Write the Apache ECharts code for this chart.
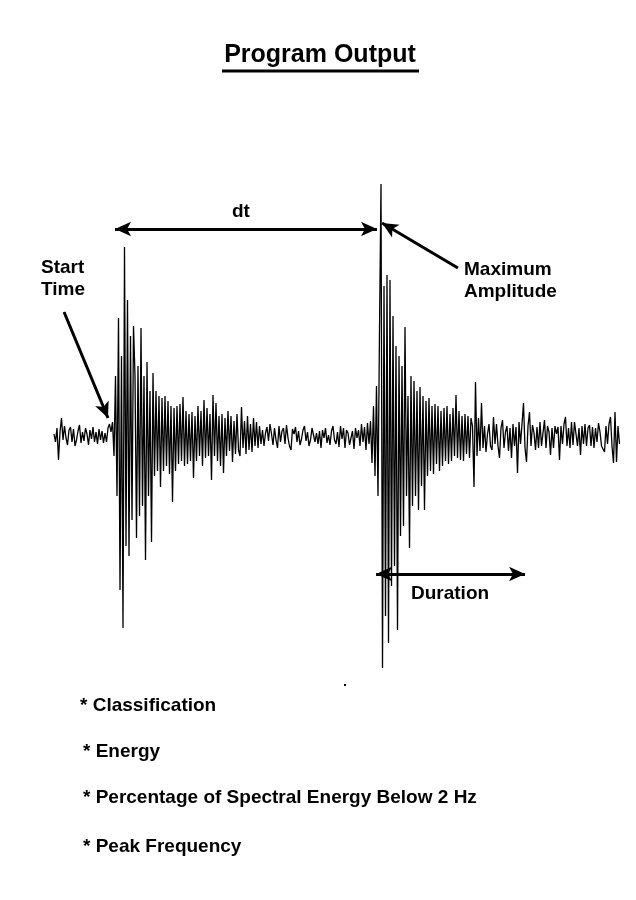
<!DOCTYPE html>
<html>
<head>
<meta charset="utf-8">
<script src="https://cdn.jsdelivr.net/npm/echarts@6/dist/echarts.min.js"></script>
<style>html,body{margin:0;padding:0;background:#fff;}#c{width:636px;height:900px;}</style>
</head>
<body>
<div id="c"></div>
<script>
// Seismogram amplitude samples (positive = up), evenly spaced in time
const preEvent = [2, -6, 8, -24, 4, 18, -4, 10, -2, -9,
  6, 9, -6, 7, -10, -4, 5, 11, -7, 4,
  -5, 8, 2, -9, 6, -3, 9, -6, 4, -8,
  7, -4, 5, -7, 3, -6, 8, 12, 4, 14];
const firstEvent = [-20, 60, -60, 118, -154, 80, -192, 189, -110, 136,
  -120, 100, -84, 110, 60, -102, 70, -80, 108, -70,
  60, -124, 74, -60, 45, -106, 63, -40, 45, -35,
  40, -51, 38, -35, 40, -30, 35, -38, 30, -66,
  28, -35, 30, -28, 32, -25, 39, -30, 25, -28,
  22, -25, 24, -42, 20, -25, 30, -20, 25, -30,
  36, -22, 28, -20, 22, -44, 41, -20, 33, -25,
  20, -30, 22, -37, 18, -20, 25, -15, 20, -26,
  15, -18, 22, -14, -20, 29, -12, 15, -18, 20,
  -14, 12, -16, 18, -10, 14, -12, 10];
const quietCoda = [-8, 6, -10, 3, 9, -5, 12, 2, -9, 8,
  -4, -12, 10, -6, 5, 8, -8, 11, -2, -10,
  -14, 7, 2, 9, -6, 5, -9, -3, 6, 10,
  -5, 4, -10, -4, 8, 9, -6, 3, -8, 5,
  -12, 6, -2, 8, -7, 1, -9, 5, 10, -4,
  -8, 4, -11, 10, -3, 8, -12, 6, 3, -9,
  -7, 5, -13, 8, -2, 6, -10, 12, -6, 9,
  -14, 13, -8, 15];
const secondEvent = [-27, 30, -40, 50, -60, 106, 252, -232, 150, -180,
  161, -207, 156, -150, 120, -130, 90, -194, 80, -100,
  70, -90, 109, -60, 40, -112, 60, -70, 55, -60,
  45, -74, 49, -50, 40, -74, 35, -40, 38, -35,
  30, -38, 32, -28, 30, -35, 25, -30, 28, -25,
  30, -28, 22, -25, 28, -20, 41, -22, 25, -24,
  20, -25, 22, -18, 20, -22, 18, 10, -51, 54,
  -20, 18, -15, 33];
const tailNoise = [-12, 10, -16, 2, 12, -10, -14, 19, -8, 12,
  -10, -22, 8, 16, -12, 4, 10, -15, 8, -22,
  12, -10, 9, -37, 14, -8, 12, 33, -12, -26,
  10, 24, -10, 11, 3, -14, 9, -12, 14, -10,
  -8, 16, -12, 10, 4, -19, 8, -12, 10, 2,
  9, -24, 10, -8, 12, 19, -10, 8, -12, 14,
  -9, 14, 2, -10, 8, -19, 10, -8, 12, -10,
  8, 11, -10, 9, -12, 8, -6, 13, 4, -10,
  -12, -16, 10, -8, 12, 19, -10, -27, 24, -26,
  10, -8];

const amplitude = [].concat(preEvent, firstEvent, quietCoda, secondEvent, tailNoise);
const seriesData = amplitude.map((v, i) => [i, v]);
const lastIndex = amplitude.length - 1;

// annotation anchors in data units (sample index, amplitude)
const startTimeIdx = 40.7, maxAmpIdx = 215.3, durationEndIdx = 314;
const dtLevel = 207, durationLevel = -138;

const FONT = '"Liberation Sans", Arial, sans-serif';
const chart = echarts.init(document.getElementById('c'), null, {renderer: 'canvas'});

const labels = [
  {t: 'Start', x: 41, y: 268},
  {t: 'Time', x: 41, y: 290},
  {t: 'dt', x: 232, y: 212},
  {t: 'Maximum', x: 464, y: 270},
  {t: 'Amplitude', x: 464, y: 292},
  {t: 'Duration', x: 411, y: 594},
  {t: '* Classification', x: 80, y: 706},
  {t: '* Energy', x: 83, y: 752},
  {t: '* Percentage of Spectral Energy Below 2 Hz', x: 83, y: 798},
  {t: '* Peak Frequency', x: 83, y: 847}
];

const graphics = labels.map(l => ({
  type: 'text', silent: true,
  x: l.x, y: l.y,
  style: {text: l.t, fill: '#000', font: 'bold 19px ' + FONT, textAlign: 'left', textVerticalAlign: 'middle'}
}));
graphics.push({
  type: 'text', silent: true, x: 320, y: 55,
  style: {text: 'Program Output', fill: '#000', font: 'bold 25px ' + FONT, textAlign: 'center', textVerticalAlign: 'middle'}
});
graphics.push({type: 'rect', silent: true, shape: {x: 222, y: 69.5, width: 197, height: 3}, style: {fill: '#000'}});
graphics.push({type: 'rect', silent: true, shape: {x: 344, y: 684, width: 2, height: 2}, style: {fill: '#000'}});

const arrowStyle = {color: '#000', width: 3, type: 'solid'};

chart.setOption({
  animation: false,
  backgroundColor: '#fff',
  grid: {left: 54, right: 16.5, top: 136, bottom: 164, containLabel: false},
  xAxis: {type: 'value', min: 0, max: lastIndex, show: false},
  yAxis: {type: 'value', min: -300, max: 300, show: false},
  graphic: graphics,
  series: [{
    type: 'line',
    data: seriesData,
    showSymbol: false,
    symbol: 'none',
    lineStyle: {color: '#000', width: 1.3},
    silent: true,
    markLine: {
      silent: true,
      animation: false,
      symbol: ['arrow', 'arrow'],
      symbolSize: [11, 16],
      label: {show: false},
      lineStyle: arrowStyle,
      data: [
        [{coord: [startTimeIdx, dtLevel], symbol: 'arrow'}, {coord: [maxAmpIdx, dtLevel], symbol: 'arrow'}],
        [{coord: [6.7, 124], symbol: 'none'}, {coord: [36, 18], symbol: 'arrow'}],
        [{coord: [269.3, 168], symbol: 'none'}, {coord: [218.7, 213], symbol: 'arrow'}],
        [{coord: [maxAmpIdx - 0.6, durationLevel], symbol: 'arrow'}, {coord: [durationEndIdx, durationLevel], symbol: 'arrow'}]
      ]
    }
  }]
});
</script>
</body>
</html>
